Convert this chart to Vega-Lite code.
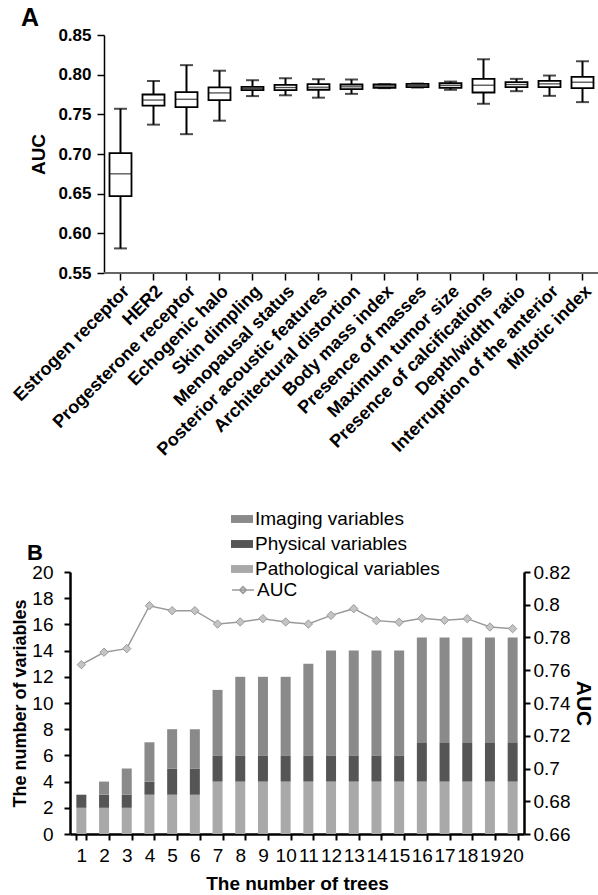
{
  "$schema": "https://vega.github.io/schema/vega-lite/v6.json",
  "padding": {"left": 10, "top": 6, "right": 0, "bottom": 0},
  "spacing": 49,
  "columns": 1,
  "align": "none",
  "resolve": {"scale": {"color": "independent", "stroke": "independent"}, "legend": {"color": "independent", "stroke": "independent"}},
  "config": {
    "font": "Liberation Sans",
    "view": {"stroke": null},
    "axis": {"grid": false, "domainColor": "black", "tickColor": "black", "labelColor": "black", "titleColor": "black", "labelFont": "Liberation Sans", "titleFont": "Liberation Sans"},
    "legend": {"labelFont": "Liberation Sans", "labelColor": "black"},
    "title": {"font": "Liberation Sans", "color": "black"}
  },
  "datasets": {
    "boxes": [
      {"variable": "Estrogen receptor", "lower": 0.581, "q1": 0.647, "median": 0.675, "q3": 0.701, "upper": 0.757},
      {"variable": "HER2", "lower": 0.737, "q1": 0.761, "median": 0.768, "q3": 0.775, "upper": 0.792},
      {"variable": "Progesterone receptor", "lower": 0.725, "q1": 0.759, "median": 0.769, "q3": 0.778, "upper": 0.812},
      {"variable": "Echogenic halo", "lower": 0.742, "q1": 0.768, "median": 0.777, "q3": 0.784, "upper": 0.805},
      {"variable": "Skin dimpling", "lower": 0.773, "q1": 0.7805, "median": 0.7825, "q3": 0.7846, "upper": 0.793},
      {"variable": "Menopausal status", "lower": 0.774, "q1": 0.7805, "median": 0.7838, "q3": 0.7872, "upper": 0.7955},
      {"variable": "Posterior acoustic features", "lower": 0.771, "q1": 0.781, "median": 0.7842, "q3": 0.788, "upper": 0.7943},
      {"variable": "Architectural distortion", "lower": 0.7758, "q1": 0.7817, "median": 0.7847, "q3": 0.7876, "upper": 0.7939},
      {"variable": "Body mass index", "lower": 0.783, "q1": 0.7834, "median": 0.7855, "q3": 0.7876, "upper": 0.788},
      {"variable": "Presence of masses", "lower": 0.7838, "q1": 0.7842, "median": 0.7863, "q3": 0.7884, "upper": 0.7888},
      {"variable": "Maximum tumor size", "lower": 0.7809, "q1": 0.7834, "median": 0.7863, "q3": 0.7892, "upper": 0.7913},
      {"variable": "Presence of calcifications", "lower": 0.7633, "q1": 0.7775, "median": 0.7867, "q3": 0.7947, "upper": 0.8194},
      {"variable": "Depth/width ratio", "lower": 0.7792, "q1": 0.7842, "median": 0.7876, "q3": 0.7905, "upper": 0.7947},
      {"variable": "Interruption of the anterior", "lower": 0.7733, "q1": 0.7842, "median": 0.7884, "q3": 0.7922, "upper": 0.7989},
      {"variable": "Mitotic index", "lower": 0.7654, "q1": 0.783, "median": 0.7905, "q3": 0.7972, "upper": 0.8169}
    ],
    "vars": [
      {"tree": 1, "type": "Pathological variables", "rank": 1, "count": 2},
      {"tree": 1, "type": "Physical variables", "rank": 2, "count": 1},
      {"tree": 1, "type": "Imaging variables", "rank": 3, "count": 0},
      {"tree": 2, "type": "Pathological variables", "rank": 1, "count": 2},
      {"tree": 2, "type": "Physical variables", "rank": 2, "count": 1},
      {"tree": 2, "type": "Imaging variables", "rank": 3, "count": 1},
      {"tree": 3, "type": "Pathological variables", "rank": 1, "count": 2},
      {"tree": 3, "type": "Physical variables", "rank": 2, "count": 1},
      {"tree": 3, "type": "Imaging variables", "rank": 3, "count": 2},
      {"tree": 4, "type": "Pathological variables", "rank": 1, "count": 3},
      {"tree": 4, "type": "Physical variables", "rank": 2, "count": 1},
      {"tree": 4, "type": "Imaging variables", "rank": 3, "count": 3},
      {"tree": 5, "type": "Pathological variables", "rank": 1, "count": 3},
      {"tree": 5, "type": "Physical variables", "rank": 2, "count": 2},
      {"tree": 5, "type": "Imaging variables", "rank": 3, "count": 3},
      {"tree": 6, "type": "Pathological variables", "rank": 1, "count": 3},
      {"tree": 6, "type": "Physical variables", "rank": 2, "count": 2},
      {"tree": 6, "type": "Imaging variables", "rank": 3, "count": 3},
      {"tree": 7, "type": "Pathological variables", "rank": 1, "count": 4},
      {"tree": 7, "type": "Physical variables", "rank": 2, "count": 2},
      {"tree": 7, "type": "Imaging variables", "rank": 3, "count": 5},
      {"tree": 8, "type": "Pathological variables", "rank": 1, "count": 4},
      {"tree": 8, "type": "Physical variables", "rank": 2, "count": 2},
      {"tree": 8, "type": "Imaging variables", "rank": 3, "count": 6},
      {"tree": 9, "type": "Pathological variables", "rank": 1, "count": 4},
      {"tree": 9, "type": "Physical variables", "rank": 2, "count": 2},
      {"tree": 9, "type": "Imaging variables", "rank": 3, "count": 6},
      {"tree": 10, "type": "Pathological variables", "rank": 1, "count": 4},
      {"tree": 10, "type": "Physical variables", "rank": 2, "count": 2},
      {"tree": 10, "type": "Imaging variables", "rank": 3, "count": 6},
      {"tree": 11, "type": "Pathological variables", "rank": 1, "count": 4},
      {"tree": 11, "type": "Physical variables", "rank": 2, "count": 2},
      {"tree": 11, "type": "Imaging variables", "rank": 3, "count": 7},
      {"tree": 12, "type": "Pathological variables", "rank": 1, "count": 4},
      {"tree": 12, "type": "Physical variables", "rank": 2, "count": 2},
      {"tree": 12, "type": "Imaging variables", "rank": 3, "count": 8},
      {"tree": 13, "type": "Pathological variables", "rank": 1, "count": 4},
      {"tree": 13, "type": "Physical variables", "rank": 2, "count": 2},
      {"tree": 13, "type": "Imaging variables", "rank": 3, "count": 8},
      {"tree": 14, "type": "Pathological variables", "rank": 1, "count": 4},
      {"tree": 14, "type": "Physical variables", "rank": 2, "count": 2},
      {"tree": 14, "type": "Imaging variables", "rank": 3, "count": 8},
      {"tree": 15, "type": "Pathological variables", "rank": 1, "count": 4},
      {"tree": 15, "type": "Physical variables", "rank": 2, "count": 2},
      {"tree": 15, "type": "Imaging variables", "rank": 3, "count": 8},
      {"tree": 16, "type": "Pathological variables", "rank": 1, "count": 4},
      {"tree": 16, "type": "Physical variables", "rank": 2, "count": 3},
      {"tree": 16, "type": "Imaging variables", "rank": 3, "count": 8},
      {"tree": 17, "type": "Pathological variables", "rank": 1, "count": 4},
      {"tree": 17, "type": "Physical variables", "rank": 2, "count": 3},
      {"tree": 17, "type": "Imaging variables", "rank": 3, "count": 8},
      {"tree": 18, "type": "Pathological variables", "rank": 1, "count": 4},
      {"tree": 18, "type": "Physical variables", "rank": 2, "count": 3},
      {"tree": 18, "type": "Imaging variables", "rank": 3, "count": 8},
      {"tree": 19, "type": "Pathological variables", "rank": 1, "count": 4},
      {"tree": 19, "type": "Physical variables", "rank": 2, "count": 3},
      {"tree": 19, "type": "Imaging variables", "rank": 3, "count": 8},
      {"tree": 20, "type": "Pathological variables", "rank": 1, "count": 4},
      {"tree": 20, "type": "Physical variables", "rank": 2, "count": 3},
      {"tree": 20, "type": "Imaging variables", "rank": 3, "count": 8}
    ],
    "auc": [
      {"tree": 1, "series": "AUC", "auc": 0.7634},
      {"tree": 2, "series": "AUC", "auc": 0.7710},
      {"tree": 3, "series": "AUC", "auc": 0.7732},
      {"tree": 4, "series": "AUC", "auc": 0.7994},
      {"tree": 5, "series": "AUC", "auc": 0.7964},
      {"tree": 6, "series": "AUC", "auc": 0.7964},
      {"tree": 7, "series": "AUC", "auc": 0.7882},
      {"tree": 8, "series": "AUC", "auc": 0.7895},
      {"tree": 9, "series": "AUC", "auc": 0.7915},
      {"tree": 10, "series": "AUC", "auc": 0.7895},
      {"tree": 11, "series": "AUC", "auc": 0.7882},
      {"tree": 12, "series": "AUC", "auc": 0.7935},
      {"tree": 13, "series": "AUC", "auc": 0.7976},
      {"tree": 14, "series": "AUC", "auc": 0.7903},
      {"tree": 15, "series": "AUC", "auc": 0.7893},
      {"tree": 16, "series": "AUC", "auc": 0.7917},
      {"tree": 17, "series": "AUC", "auc": 0.7905},
      {"tree": 18, "series": "AUC", "auc": 0.7915},
      {"tree": 19, "series": "AUC", "auc": 0.7864},
      {"tree": 20, "series": "AUC", "auc": 0.7854}
    ]
  },
  "concat": [
    {
      "width": 529,
      "height": 238,
      "title": {"text": "A", "anchor": "start", "frame": "group", "dx": -49, "offset": -5, "fontSize": 25, "fontWeight": "bold"},
      "data": {"name": "boxes"},
      "encoding": {
        "x": {
          "field": "variable", "type": "nominal", "sort": null,
          "scale": {"paddingInner": 0, "paddingOuter": 0.515, "align": 1},
          "axis": {"title": null, "domain": false, "labelAngle": -45, "labelFontSize": 18, "labelFontWeight": "bold", "labelOverlap": false, "tickSize": 7, "tickWidth": 1.5, "labelPadding": 2, "labelLimit": 400}
        }
      },
      "layer": [
        {
          "mark": {"type": "rule", "color": "black", "strokeWidth": 2},
          "encoding": {
            "y": {"field": "lower", "type": "quantitative", "title": "AUC", "scale": {"domain": [0.55, 0.85], "nice": false, "zero": false},
              "axis": {"title": "AUC", "offset": -34, "values": [0.55, 0.6, 0.65, 0.7, 0.75, 0.8, 0.85], "tickCount": 30, "format": ".2f", "labelOverlap": false, "labelFontSize": 17, "labelFontWeight": "bold", "titleFontSize": 19, "titleFontWeight": "bold", "tickSize": 7, "tickWidth": 1.5, "domainWidth": 1.5, "labelPadding": 6, "titlePadding": 9}},
            "y2": {"field": "upper"}
          }
        },
        {
          "mark": {"type": "tick", "color": "black", "size": 13, "thickness": 2},
          "encoding": {"y": {"field": "lower", "type": "quantitative", "title": "AUC"}}
        },
        {
          "mark": {"type": "tick", "color": "black", "size": 13, "thickness": 2},
          "encoding": {"y": {"field": "upper", "type": "quantitative", "title": "AUC"}}
        },
        {
          "mark": {"type": "bar", "fill": "white", "stroke": "black", "strokeWidth": 1.8, "size": 22},
          "encoding": {"y": {"field": "q1", "type": "quantitative", "title": "AUC"}, "y2": {"field": "q3"}}
        },
        {
          "mark": {"type": "tick", "color": "black", "size": 22, "thickness": 1.3},
          "encoding": {"y": {"field": "median", "type": "quantitative", "title": "AUC"}}
        },
        {
          "mark": {"type": "rule", "color": "#666666", "strokeWidth": 1.5, "xOffset": -16.5, "x2Offset": 16.5},
          "encoding": {
            "x": {"datum": "Estrogen receptor", "type": "nominal"},
            "x2": {"datum": "Mitotic index"},
            "y": {"datum": 0.55, "type": "quantitative", "title": "AUC"}
          }
        }
      ]
    },
    {
      "width": 454,
      "height": 262,
      "title": {"text": "B", "anchor": "start", "frame": "group", "dx": -43, "offset": -57, "fontSize": 22, "fontWeight": "bold"},
      "encoding": {
        "x": {
          "field": "tree", "type": "ordinal",
          "scale": {"paddingInner": 0.56, "paddingOuter": 0.28},
          "axis": {"title": "The number of trees", "labelAngle": 0, "labelFontSize": 19, "labelOverlap": false, "titleFontSize": 19, "titleFontWeight": "bold", "tickBand": "extent", "tickSize": 6, "tickWidth": 2, "domainWidth": 2.5, "labelPadding": 6, "titlePadding": 9}
        }
      },
      "layer": [
        {
          "data": {"name": "vars"},
          "mark": {"type": "bar"},
          "encoding": {
            "y": {"field": "count", "type": "quantitative", "stack": "zero", "scale": {"domain": [0, 20], "nice": false},
              "axis": {"title": "The number of variables", "values": [0, 2, 4, 6, 8, 10, 12, 14, 16, 18, 20], "tickCount": 30, "format": "d", "labelOverlap": false, "labelFontSize": 19, "titleFontSize": 18, "titleFontWeight": "bold", "tickSize": 6, "tickWidth": 2, "domainWidth": 2.5, "labelPadding": 11, "titlePadding": 2}},
            "color": {"field": "type", "type": "nominal",
              "scale": {"domain": ["Imaging variables", "Physical variables", "Pathological variables"], "range": ["#8a8a8a", "#555555", "#a9a9a9"]},
              "legend": {"title": null, "orient": "none", "legendX": 161, "legendY": -64, "padding": 0, "labelFontSize": 19, "labelLimit": 400, "labelOffset": 2, "rowPadding": 4, "symbolType": "M-1,-0.36H1V0.36H-1Z", "symbolSize": 484, "symbolStrokeWidth": 0}},
            "order": {"field": "rank", "type": "quantitative"}
          }
        },
        {
          "data": {"name": "auc"},
          "encoding": {
            "y": {"field": "auc", "type": "quantitative", "title": "AUC", "scale": {"domain": [0.66, 0.82], "nice": false, "zero": false},
              "axis": {"orient": "right", "title": "AUC", "values": [0.66, 0.68, 0.7, 0.72, 0.74, 0.76, 0.78, 0.8, 0.82], "tickCount": 30, "format": ".2~f", "labelOverlap": false, "labelFontSize": 19, "titleFontSize": 21, "titleFontWeight": "bold", "tickSize": 6, "tickWidth": 2, "domainWidth": 2.5, "labelPadding": 3, "titlePadding": 3}}
          },
          "layer": [
            {
              "mark": {"type": "line", "strokeWidth": 1.5},
              "encoding": {
                "stroke": {"field": "series", "type": "nominal", "scale": {"domain": ["AUC"], "range": ["#9a9a9a"]},
                  "legend": {"title": null, "orient": "none", "legendX": 161, "legendY": 6, "padding": 0, "labelFontSize": 19, "labelOffset": 2, "symbolType": "M-1,0H1M0,-0.32L0.32,0L0,0.32L-0.32,0Z", "symbolSize": 484, "symbolStrokeWidth": 1.3, "symbolFillColor": "#c4c4c4",
                    "encode": {"symbols": {"update": {"fill": {"value": "#c4c4c4"}, "stroke": {"value": "#9a9a9a"}}}}}
                }
              }
            },
            {
              "mark": {"type": "point", "shape": "diamond", "filled": true, "fill": "#c4c4c4", "stroke": "#9a9a9a", "strokeWidth": 1, "size": 70, "opacity": 1}
            }
          ]
        }
      ],
      "resolve": {"scale": {"y": "independent"}}
    }
  ]
}
